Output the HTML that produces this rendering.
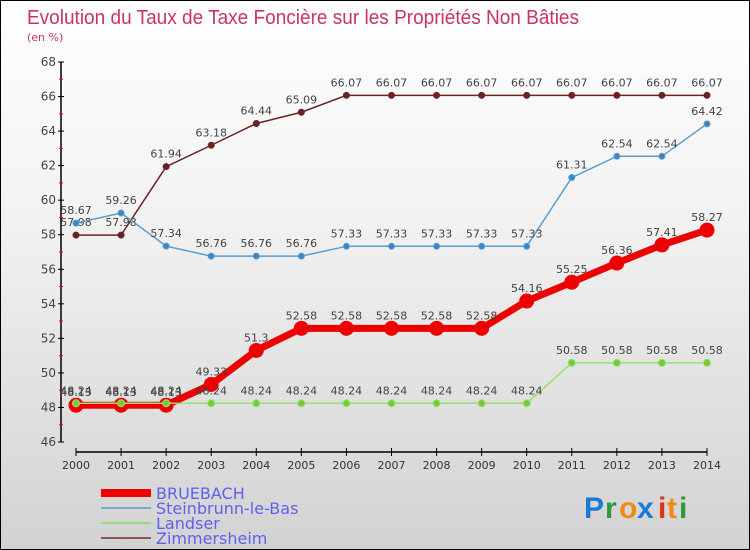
<!DOCTYPE html>
<html><head><meta charset="utf-8"><style>
body{margin:0;width:750px;height:550px;overflow:hidden}
#wrap{position:relative;width:748px;height:548px;border:1px solid #000;background:linear-gradient(#fff 0%,#f2f2f2 40%,#d2d2d2 100%);font-family:"DejaVu Sans","Liberation Sans",sans-serif}
</style></head><body>
<div id="wrap">
<svg id="svg" width="748" height="548" style="position:absolute;left:0;top:0">
<text x="26" y="23" font-size="20" font-family="Liberation Sans,sans-serif" textLength="552" lengthAdjust="spacingAndGlyphs" fill="#c8336a">Evolution du Taux de Taxe Foncière sur les Propriétés Non Bâties</text>
<text x="26" y="40" font-size="11" fill="#c8336a">(en %)</text>
<g id="axes"></g><g id="series"></g><g id="legend"></g>
<g font-size="30" font-family="Liberation Sans,sans-serif" font-weight="bold">
<text x="583" y="517" fill="#1a7ad8">P</text><text x="604" y="517" fill="#2a9a3a">r</text><text x="618" y="517" fill="#f08a10">o</text><text x="636" y="517" fill="#1a7ad8">x</text><text x="657" y="517" fill="#e03010">i</text><text x="666" y="517" fill="#f08a10">t</text><text x="678" y="517" fill="#2a9a3a">i</text>
</g>
</svg></div>
<script>
const years=[2000,2001,2002,2003,2004,2005,2006,2007,2008,2009,2010,2011,2012,2013,2014];
const bruebach=[48.13,48.13,48.13,49.33,51.3,52.58,52.58,52.58,52.58,52.58,54.16,55.25,56.36,57.41,58.27];
const steinbrunn=[58.67,59.26,57.34,56.76,56.76,56.76,57.33,57.33,57.33,57.33,57.33,61.31,62.54,62.54,64.42];
const landser=[48.24,48.24,48.24,48.24,48.24,48.24,48.24,48.24,48.24,48.24,48.24,50.58,50.58,50.58,50.58];
const zimmersheim=[57.98,57.98,61.94,63.18,64.44,65.09,66.07,66.07,66.07,66.07,66.07,66.07,66.07,66.07,66.07];
const yTicks=[46,48,50,52,54,56,58,60,62,64,66,68];
const NS="http://www.w3.org/2000/svg";
const X=i=>75+i*(631/14);
const Y=v=>441-(v-46)*(380/22);
function mk(tag,attrs,parent){const e=document.createElementNS(NS,tag);for(const k in attrs)e.setAttribute(k,attrs[k]);parent.appendChild(e);return e;}
const axes=document.getElementById('axes');
let a=mk('line',{x1:60,y1:Y(68),x2:60,y2:Y(46),stroke:'#000','stroke-width':1.5},axes);

yTicks.forEach(t=>{mk('line',{x1:57,x2:63,y1:Y(t),y2:Y(t),stroke:'#000'},axes);
 if(t<68)mk('line',{x1:58,x2:62,y1:Y(t+1),y2:Y(t+1),stroke:'#f00'},axes);
 const tx=mk('text',{x:55,y:Y(t)+4,'text-anchor':'end','font-size':12,fill:'#444'},axes);tx.textContent=t;
 });
a=mk('line',{x1:X(0),y1:451,x2:X(14),y2:451,stroke:'#000','stroke-width':1.5},axes);

years.forEach((y,i)=>{mk('line',{x1:X(i),x2:X(i),y1:447,y2:455,stroke:'#000'},axes);
 const tx=mk('text',{x:X(i),y:468,'text-anchor':'middle','font-size':11,fill:'#333'},axes);tx.textContent=y;
 });
const sg=document.getElementById('series');
function series(name,data,color,dot,w,r,labels){
 const g=mk('g',{},sg);
 mk('polyline',{points:data.map((v,i)=>X(i)+','+Y(v)).join(' '),fill:'none',stroke:color,'stroke-width':w,'stroke-linejoin':'round'},g);
 data.forEach((v,i)=>{const c=mk('circle',{cx:X(i),cy:Y(v),r:r,fill:dot,stroke:color,'stroke-width':1},g);
  
  if(labels){const t=mk('text',{x:X(i),y:Y(v)-9,'text-anchor':'middle','font-size':11,fill:'#444'},g);t.textContent=v;
  }});
}
series('zimmersheim',zimmersheim,'#6a2222','#6a2222',1.5,3,true);
series('steinbrunn',steinbrunn,'#5a9fd0','#3a85c5',1.5,3,true);
series('bruebach',bruebach,'#ee0000','#ee0000',7,7,true);
series('landser',landser,'#99dd77','#77cc33',1.5,3.5,true);
const lg=document.getElementById('legend');
[['BRUEBACH','#ee0000',8],['Steinbrunn-le-Bas','#7aaad0',2],['Landser','#99dd77',2],['Zimmersheim','#8a5555',2]].forEach((d,i)=>{
 const g=mk('g',{},lg);
 const y=492+i*15;mk('line',{x1:100,x2:150,y1:y,y2:y,stroke:d[1],'stroke-width':d[2]},g);
 const t=mk('text',{x:155,y:y+6,'font-size':16,fill:'#6060ee'},g);t.textContent=d[0];});
</script></body></html>
